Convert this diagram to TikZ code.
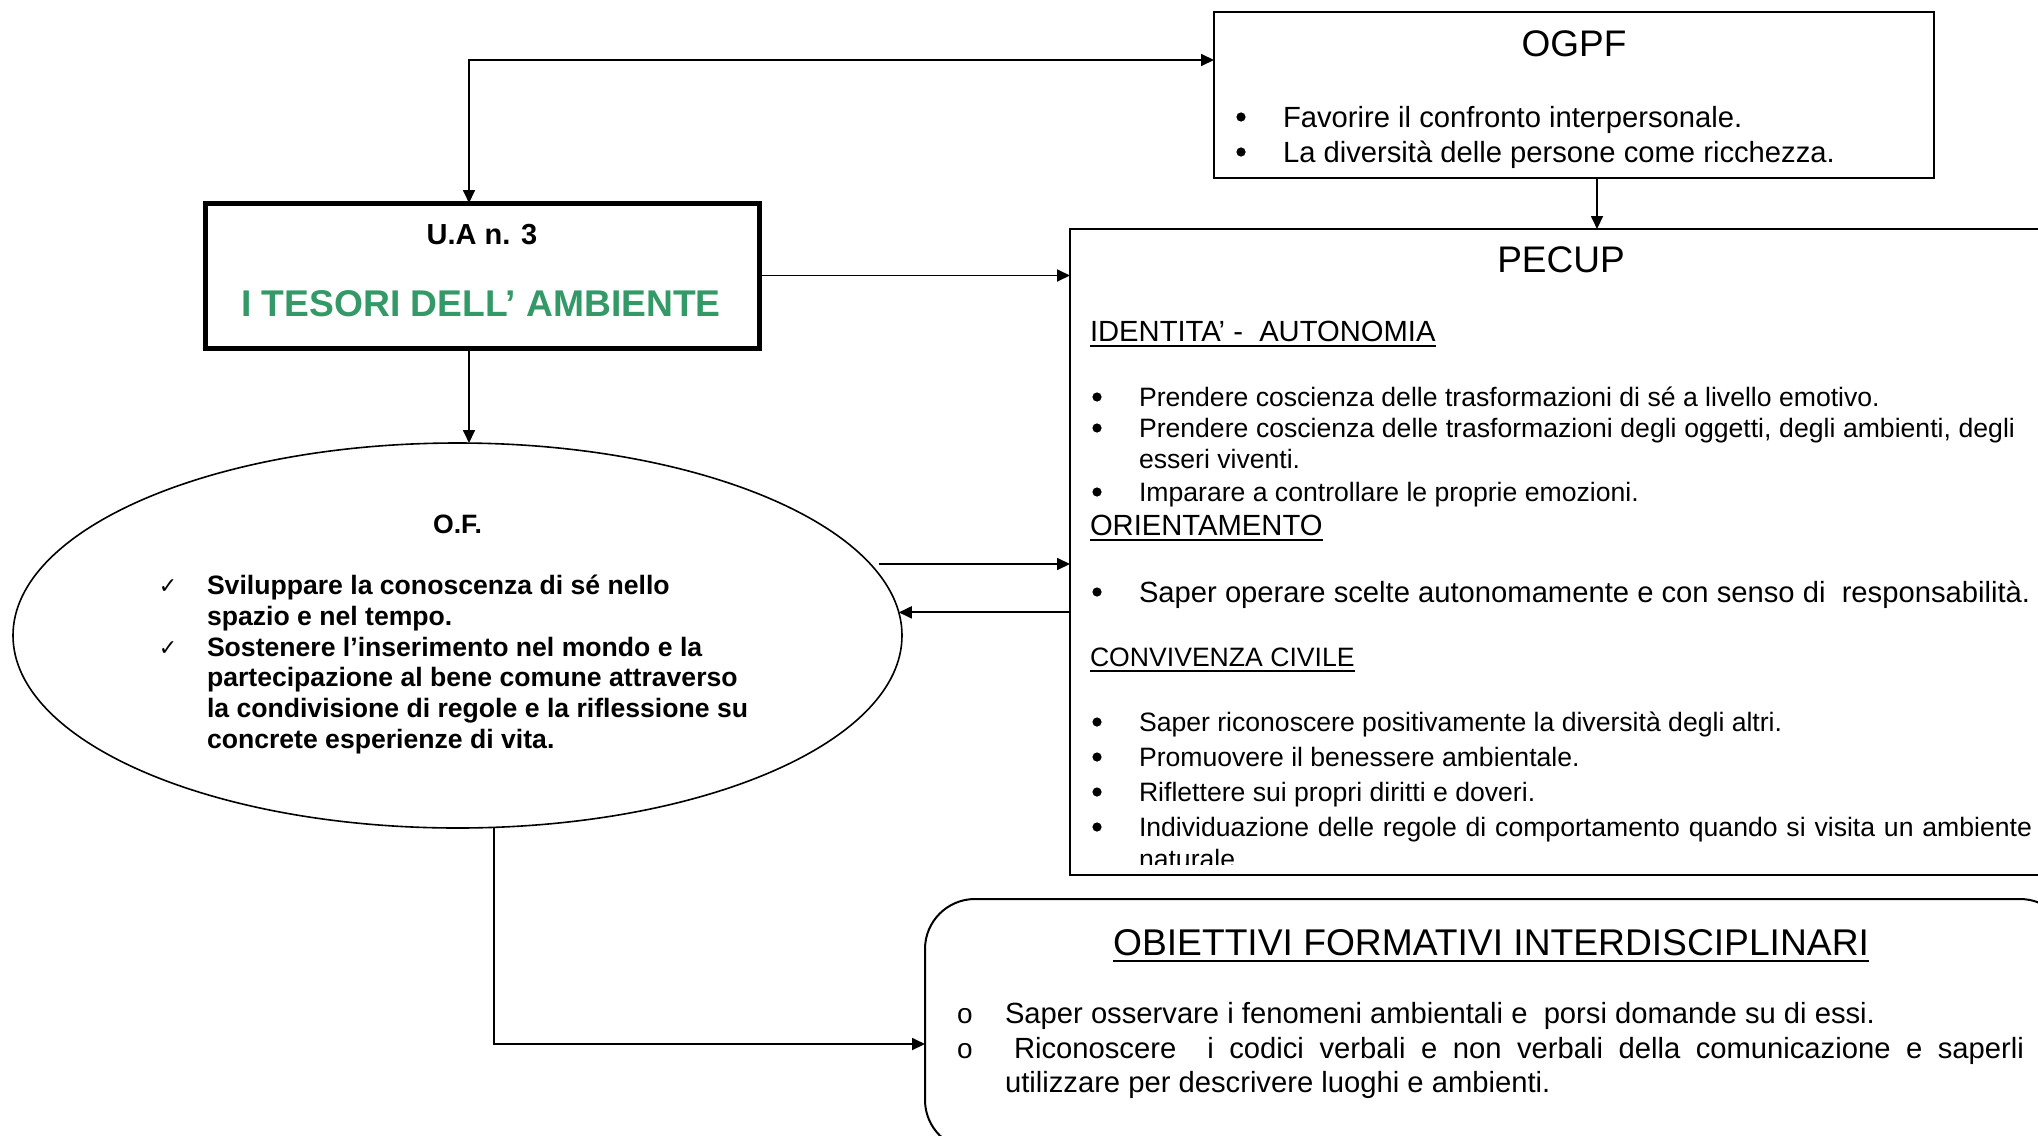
\documentclass[tikz,border=0pt]{standalone}
\usepackage{fontspec}
\setmainfont{Liberation Sans}
\newfontfamily\symfont{DejaVu Sans}
\usetikzlibrary{arrows.meta,shapes.geometric,calc}
\definecolor{tgreen}{RGB}{51,153,102}
\newcommand{\myfs}[1]{\fontsize{#1}{#1}\selectfont}
\begin{document}
\begin{tikzpicture}[x=0.5pt,y=-0.5pt,
  >={Triangle[length=6.5pt,width=6pt]},
  frame/.style={draw=black, line width=1pt, inner sep=0pt, outer sep=0pt},
  conn/.style={draw=black, line width=0.9pt},
  txt/.style={inner sep=0pt, outer sep=0pt, anchor=base west},
  ctxt/.style={inner sep=0pt, outer sep=0pt, anchor=base},
  fsbody/.style={font=\myfs{13.3pt}},
  fsbig/.style={font=\myfs{14.6pt}},
  fstitle/.style={font=\myfs{18.5pt}},
  dot/.style={circle, fill=black, inner sep=0pt, outer sep=0pt, minimum size=4.6pt},
  hbul/.style={inner sep=0pt, outer sep=0pt, anchor=base, font=\myfs{14pt}},
  uline/.style={line width=0.9pt}
]
\useasboundingbox (0,0) rectangle (2038,1135);
\clip (0,0) rectangle (2038,1135);
\fill[white] (0,0) rectangle (2038,1135);

% ---------- frames ----------
\node[frame, rectangle, minimum width=360pt, minimum height=83pt] (ogpf) at (1574,95) {};
\node[frame, rectangle, line width=2.5pt, minimum width=277pt, minimum height=72.5pt] (ua) at (482,275.5) {};
\node[frame, rectangle, minimum width=515pt, minimum height=323pt] (pecup) at (1585,552) {};
\node[frame, ellipse, line width=0.8pt, minimum width=444.5pt, minimum height=192.5pt] (of) at (457.5,635.5) {};
\node[frame, rectangle, rounded corners=25pt, minimum width=572.5pt, minimum height=125.5pt] (obi) at (1497.5,1024.5) {};

% ---------- OGPF ----------
\node[ctxt, fstitle] (ogpfT) at (1574,56) {OGPF};
\node[dot] (ob1) at (1241,117) {};
\node[txt, fsbig] (ot1) at (1283,127) {Favorire il confronto interpersonale.};
\node[dot] (ob2) at (1241,152) {};
\node[txt, fsbig] (ot2) at (1283,162) {La diversità delle persone come ricchezza.};

% ---------- U.A ----------
\node[ctxt, font=\bfseries\myfs{14.5pt}] (uaT) at (482,244) {U.A n. 3};
\node[ctxt, font=\bfseries\myfs{18.6pt}, text=tgreen] (uaN) at (481,316) {I TESORI DELL’ AMBIENTE};

% ---------- O.F. ----------
\node[ctxt, font=\bfseries\myfs{13.3pt}] (ofT) at (457.5,533) {O.F.};
\node[ctxt, font=\symfont\myfs{11pt}] (ck1) at (168,593) {✓};
\node[txt, font=\bfseries\myfs{13.3pt}] (of1) at (207,594) {Sviluppare la conoscenza di sé nello};
\node[txt, font=\bfseries\myfs{13.3pt}] (of2) at (207,625) {spazio e nel tempo.};
\node[ctxt, font=\symfont\myfs{11pt}] (ck2) at (168,655) {✓};
\node[txt, font=\bfseries\myfs{13.3pt}] (of3) at (207,656) {Sostenere l’inserimento nel mondo e la};
\node[txt, font=\bfseries\myfs{13.3pt}] (of4) at (207,686) {partecipazione al bene comune attraverso};
\node[txt, font=\bfseries\myfs{13.3pt}] (of5) at (207,717) {la condivisione di regole e la riflessione su};
\node[txt, font=\bfseries\myfs{13.3pt}] (of6) at (207,748) {concrete esperienze di vita.};

% ---------- PECUP ----------
\node[ctxt, fstitle] (pecT) at (1561,272) {PECUP};
\begin{scope}
\clip (1070,229) rectangle (2100,864);
\node[txt, fsbig] (h1) at (1090,341) {IDENTITA’ -\ \ AUTONOMIA};
\node[dot] (pb1) at (1097,397) {};
\node[txt, fsbody] (p1) at (1139,406) {Prendere coscienza delle trasformazioni di sé a livello emotivo.};
\node[dot] (pb2) at (1097,428) {};
\node[txt, fsbody] (p2) at (1139,437) {\makebox[438pt][s]{Prendere coscienza delle trasformazioni degli oggetti, degli ambienti, degli}};
\node[txt, fsbody] (p3) at (1139,468) {esseri viventi.};
\node[dot] (pb4) at (1097,492) {};
\node[txt, fsbody] (p4) at (1139,501) {Imparare a controllare le proprie emozioni.};
\node[txt, fsbig] (h2) at (1090,535) {ORIENTAMENTO};
\node[dot] (pb5) at (1097,592) {};
\node[txt, fsbig] (p5) at (1139,602) {Saper operare scelte autonomamente e con senso di\ \ responsabilità.};
\node[txt, fsbody] (h3) at (1090,666) {CONVIVENZA CIVILE};
\node[dot] (pb6) at (1097,722) {};
\node[txt, fsbody] (p6) at (1139,731) {Saper riconoscere positivamente la diversità degli altri.};
\node[dot] (pb7) at (1097,757) {};
\node[txt, fsbody] (p7) at (1139,766) {Promuovere il benessere ambientale.};
\node[dot] (pb8) at (1097,792) {};
\node[txt, fsbody] (p8) at (1139,801) {Riflettere sui propri diritti e doveri.};
\node[dot] (pb9) at (1097,827) {};
\node[txt, fsbody] (p9) at (1139,836) {\makebox[446.5pt][s]{Individuazione delle regole di comportamento quando si visita un ambiente}};
\node[txt, fsbody] (p10) at (1139,868) {naturale};
\end{scope}
\draw[uline] ([yshift=-2.5pt]h1.base west) -- ([yshift=-2.5pt]h1.base east);
\draw[uline] ([yshift=-2.5pt]h2.base west) -- ([yshift=-2.5pt]h2.base east);
\draw[uline] ([yshift=-2.5pt]h3.base west) -- ([yshift=-2.5pt]h3.base east);

% ---------- OBIETTIVI ----------
\node[ctxt, font=\myfs{18.6pt}] (obT) at (1491,955) {OBIETTIVI FORMATIVI INTERDISCIPLINARI};
\draw[uline, line width=1.2pt] ([yshift=-3pt]obT.base west) -- ([yshift=-3pt]obT.base east);
\node[hbul] (qb1) at (965,1023) {o};
\node[txt, fsbig] (q1) at (1005,1023) {Saper osservare i fenomeni ambientali e\ \ porsi domande su di essi.};
\node[hbul] (qb2) at (965,1058) {o};
\node[txt, fsbig] (q2) at (1005,1058) {\hspace*{4.5pt}\makebox[505pt][s]{Riconoscere\ \ i codici verbali e non verbali della comunicazione e saperli}};
\node[txt, fsbig] (q3) at (1005,1092) {utilizzare per descrivere luoghi e ambienti.};

% ---------- connectors ----------
\coordinate (cA) at (469,60);
\coordinate (cB) at (1597,200);
\coordinate (cC) at (494,1044);
\coordinate (cD) at (879,564);
\draw[conn,<->] (ua.north -| cA) -- (cA) -- (ogpf.west |- cA);
\draw[conn,->] (ogpf.south -| cB) -- (pecup.north -| cB);
\draw[conn,->] (ua.east) -- (pecup.west |- ua.east);
\draw[conn,->] (ua.south -| cA) -- (of.north -| cA);
\draw[conn,->] (cD) -- (pecup.west |- cD);
\draw[conn,->] (pecup.west |- of.3) -- (of.3);
\draw[conn,->] (of.south -| cC) -- (cC) -- (obi.west |- cC);
\end{tikzpicture}
\end{document}
